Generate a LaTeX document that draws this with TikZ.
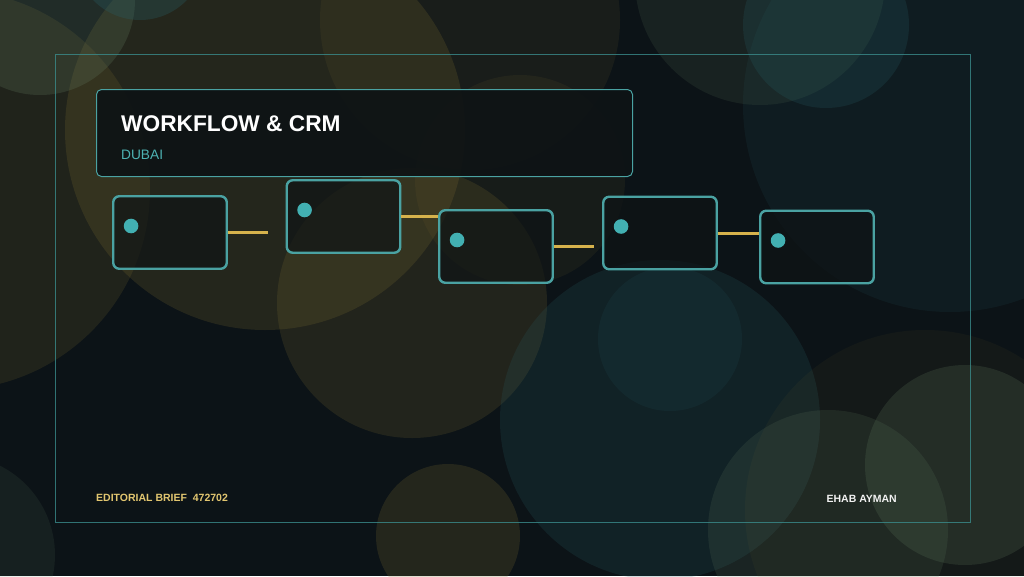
\documentclass[tikz,border=0pt]{standalone}
\usepackage{fontspec}
\setmainfont{Liberation Sans}
\definecolor{bgdark}{RGB}{12,19,23}
\definecolor{olive}{RGB}{125,108,48}
\definecolor{tealc}{RGB}{40,95,102}
\definecolor{sage}{RGB}{100,126,98}
\definecolor{framec}{RGB}{58,140,140}
\definecolor{edgec}{RGB}{74,162,162}
\definecolor{dotc}{RGB}{66,176,178}
\definecolor{goldc}{RGB}{214,178,76}
\definecolor{goldtext}{RGB}{226,198,112}
\definecolor{subc}{RGB}{77,178,178}
\definecolor{boxfill}{RGB}{14,19,21}
\begin{document}
\begin{tikzpicture}[x=1pt,y=-1pt,
    stage/.style={draw=edgec,line width=2.4pt,rounded corners=6pt,fill=boxfill,fill opacity=0.68,
      minimum width=113.5pt,minimum height=72.5pt,inner sep=0pt},
    link/.style={goldc,line width=3pt},
    dot/.style={dotc},
    blob/.style={fill opacity=#1},
    label/.style={anchor=base west,inner sep=0pt}]
      \useasboundingbox (0,0) rectangle (1024,576);
      \clip (0,0) rectangle (1024,576);
      \fill[bgdark] (0,0) rectangle (1024,576);
      % soft background circles
      \fill[olive,blob=.18] (-50,190) circle (200);
      \fill[olive,blob=.22] (265,130) circle (200);
      \fill[olive,blob=.12] (470,20) circle (150);
      \fill[olive,blob=.10] (520,180) circle (105);
      \fill[olive,blob=.20] (412,303) circle (135);
      \fill[olive,blob=.22] (448,536) circle (72);
      \fill[sage,blob=.12] (-45,555) circle (100);
      \fill[sage,blob=.24] (40,0) circle (95);
      \fill[tealc,blob=.30] (140,-45) circle (65);
      \fill[sage,blob=.14] (760,-20) circle (125);
      \fill[tealc,blob=.22] (826,25) circle (83);
      \fill[tealc,blob=.13] (950,105) circle (207);
      \fill[tealc,blob=.20] (660,420) circle (160);
      \fill[tealc,blob=.13] (670,339) circle (72);
      \fill[olive,blob=.08] (925,510) circle (180);
      \fill[sage,blob=.16] (828,530) circle (120);
      \fill[sage,blob=.20] (965,465) circle (100);
      % frame
      \draw[framec,line width=1pt,opacity=.8] (55,54) rectangle (970,522);
      % header
      \node[draw=edgec,line width=1pt,rounded corners=5pt,fill=boxfill,fill opacity=0.92,
        minimum width=536pt,minimum height=87pt] (head) at (364.5,133) {};
      \node[label,white,font=\bfseries\fontsize{22.7}{27}\selectfont] (title) at (121,131) {WORKFLOW \& CRM};
      \node[label,subc,font=\fontsize{13.7}{16}\selectfont] (city) at (121,159) {DUBAI};
      % stages
      \node[stage] (s1) at (170,232.5) {};
      \node[stage] (s2) at (343.5,216.5) {};
      \node[stage] (s3) at (496,246.5) {};
      \node[stage] (s4) at (660,233) {};
      \node[stage] (s5) at (817,247) {};
      \fill[dot] (s1.west) ++(19,-6.5) circle (7.3);
      \fill[dot] (s2.west) ++(19,-6.5) circle (7.3);
      \fill[dot] (s3.west) ++(19,-6.5) circle (7.3);
      \fill[dot] (s4.west) ++(19,-6.5) circle (7.3);
      \fill[dot] (s5.west) ++(19,-6.5) circle (7.3);
      % links
      \coordinate (e1) at ([xshift=40pt]s1.east);
      \coordinate (e3) at ([xshift=40pt]s3.east);
      \draw[link] (s1.east) -- (e1);
      \draw[link] (s2.east) -- (s3.west |- s2.east);
      \draw[link] (s3.east) -- (e3);
      \draw[link] (s4.east) -- (s5.west |- s4.east);
      % footer
      \node[label,goldtext,font=\bfseries\fontsize{10.5}{12}\selectfont] (brief) at (96,501) {EDITORIAL BRIEF\ \ 472702};
      \node[label,anchor=base east,white!90!gray,font=\bfseries\fontsize{10.5}{12}\selectfont] (author) at (897,502) {EHAB AYMAN};
    \end{tikzpicture}
\end{document}
